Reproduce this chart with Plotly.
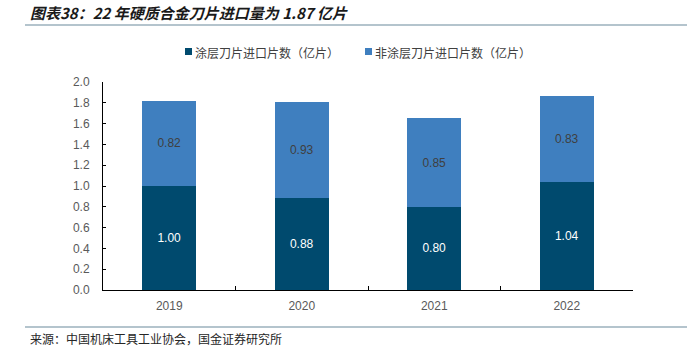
import plotly.graph_objects as go

years = ["2019", "2020", "2021", "2022"]
coated = [1.00, 0.88, 0.80, 1.04]
uncoated = [0.82, 0.93, 0.85, 0.83]
name_coated = "涂层刀片进口片数（亿片）"
name_uncoated = "非涂层刀片进口片数（亿片）"
title_text = "图表38：22 年硬质合金刀片进口量为 1.87 亿片"
source_text = "来源：中国机床工具工业协会，国金证券研究所"
y_ticks = [0.0, 0.2, 0.4, 0.6, 0.8, 1.0, 1.2, 1.4, 1.6, 1.8, 2.0]

C_DARK = "#004A6E"
C_LIGHT = "#3F7FBF"
FONT = "Liberation Sans, Arial, Noto Sans CJK SC, sans-serif"
CJK = "Noto Sans CJK SC, sans-serif"

fig = go.Figure()
fig.add_trace(go.Bar(
    x=years, y=coated, name=name_coated, marker=dict(color=C_DARK, line=dict(width=0)),
    text=[f"{v:.2f}" for v in coated], textposition="inside", insidetextanchor="middle",
    textfont=dict(color="white", size=12, family=FONT), showlegend=False,
))
fig.add_trace(go.Bar(
    x=years, y=uncoated, name=name_uncoated, marker=dict(color=C_LIGHT, line=dict(width=0)),
    text=[f"{v:.2f}" for v in uncoated], textposition="inside", insidetextanchor="middle",
    textfont=dict(color="#404040", size=12, family=FONT), showlegend=False,
))

W, H = 697, 349
L, R, T, B = 103, 64, 82, 59

fig.update_layout(
    width=W, height=H, barmode="stack", bargap=0.59,
    margin=dict(l=L, r=R, t=T, b=B, pad=0),
    paper_bgcolor="white", plot_bgcolor="white",
    font=dict(family=FONT, color="#595959", size=12),
    xaxis=dict(
        type="category", showline=True, linecolor="#000000", linewidth=1,
        ticks="inside", tickson="boundaries", ticklen=4, tickcolor="#000000",
        tickfont=dict(size=12, color="#595959", family=FONT), showgrid=False,
        ticklabelstandoff=5,
    ),
    yaxis=dict(
        range=[0, 2.0], tickvals=y_ticks, ticktext=[f"{v:.1f}" for v in y_ticks],
        showline=True, linecolor="#000000", linewidth=1,
        ticks="inside", ticklen=3, tickcolor="#000000",
        tickfont=dict(size=12, color="#595959", family=FONT), showgrid=False, zeroline=False,
        ticklabelstandoff=10,
    ),
)

def px_x(p):
    return p / W

def px_y(p):
    return 1 - p / H

def to_paper_x(fx):
    return (fx * W - L) / (W - L - R)

def to_paper_y(fy):
    return (fy * H - B) / (H - T - B)

shapes = [
    dict(type="line", x0=25, x1=687, y0=25, y1=25, line=dict(color="#9BB0BC", width=1.3)),
    dict(type="line", x0=25, x1=687, y0=327, y1=327, line=dict(color="#9BB0BC", width=1.3)),
    dict(type="rect", x0=185, x1=192, y0=55, y1=48, fillcolor=C_DARK, line=dict(width=0)),
    dict(type="rect", x0=365, x1=372, y0=55, y1=48, fillcolor=C_LIGHT, line=dict(width=0)),
]
for s in shapes:
    s["xref"] = "paper"; s["yref"] = "paper"
    s["x0"] = to_paper_x(px_x(s["x0"])); s["x1"] = to_paper_x(px_x(s["x1"]))
    s["y0"] = to_paper_y(px_y(s["y0"])); s["y1"] = to_paper_y(px_y(s["y1"]))
fig.update_layout(shapes=shapes)

def ann(text, x, y, size, color, family, xanchor="left", yanchor="middle"):
    return dict(text=text, xref="paper", yref="paper",
                x=to_paper_x(px_x(x)), y=to_paper_y(px_y(y)),
                xanchor=xanchor, yanchor=yanchor, showarrow=False,
                font=dict(size=size, color=color, family=family))

fig.update_layout(annotations=[
    ann(f"<b><i>{title_text}</i></b>", 28, 12, 15, "#1a1a1a", CJK),
    ann(name_coated, 193, 52, 12, "#404040", CJK),
    ann(name_uncoated, 373, 52, 12, "#404040", CJK),
    ann(source_text, 28, 339, 12, "#262626", CJK),
])

fig.write_html("out.html")
